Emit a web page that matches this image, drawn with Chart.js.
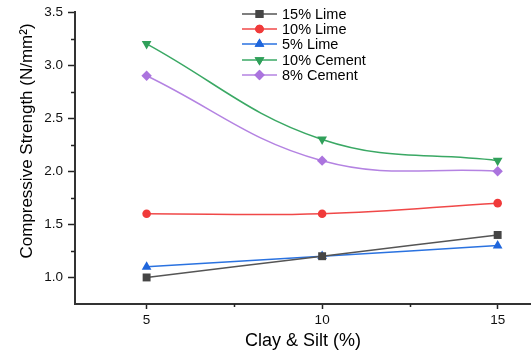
<!DOCTYPE html>
<html><head><meta charset="utf-8">
<script src="https://cdn.jsdelivr.net/npm/chart.js@4/dist/chart.umd.min.js"></script>
<style>html,body{margin:0;padding:0;background:#fff}canvas{display:block}</style>
</head><body>
<canvas id="c" width="531" height="356"></canvas>
<script>
const clayPercent = [5, 10, 15];
const lime15 = [1.0, 1.2, 1.4];
const lime10 = [1.6, 1.6, 1.7];
const lime5 = [1.1, 1.2, 1.3];
const cement10 = [3.2, 2.3, 2.1];
const cement8 = [2.9, 2.1, 2.0];
const seriesNames = ['15% Lime', '10% Lime', '5% Lime', '10% Cement', '8% Cement'];
const yTickValues = [1.0, 1.5, 2.0, 2.5, 3.0, 3.5];
const yMinorValues = [1.25, 1.75, 2.25, 2.75, 3.25];
const xTickValues = [5, 10, 15];
const xMinorValues = [7.5, 12.5];
const xTitle = 'Clay & Silt (%)';
const yTitle = 'Compressive Strength (N/mm²)';

const FONT = "'Liberation Sans', Arial, sans-serif";
const styles = [
  {line: '#555555', fill: '#454545', ps: 'rect', r: 5.6, rot: 0},
  {line: '#f04848', fill: '#f03a3a', ps: 'circle', r: 4.3, rot: 0},
  {line: '#2a72e0', fill: '#1f66dc', ps: 'triangle', r: 5.6, rot: 0},
  {line: '#3aa864', fill: '#30a05a', ps: 'triangle', r: 5.6, rot: 180},
  {line: '#b483e2', fill: '#ab74de', ps: 'rectRot', r: 5.2, rot: 0}
];
const seriesValues = [lime15, lime10, lime5, cement10, cement8];

const datasets = seriesValues.map((vals, i) => ({
  label: seriesNames[i],
  data: clayPercent.map((x, j) => ({x: x, y: vals[j]})),
  borderColor: styles[i].line,
  backgroundColor: styles[i].fill,
  pointBackgroundColor: styles[i].fill,
  pointBorderColor: styles[i].fill,
  pointBorderWidth: 0,
  pointStyle: styles[i].ps,
  pointRadius: styles[i].r,
  pointRotation: styles[i].rot,
  borderWidth: 1.5,
  tension: 0.4,
  fill: false
}));

function drawMarker(ctx, st, x, y) {
  if (Chart.helpers && Chart.helpers.drawPoint) {
    Chart.helpers.drawPoint(ctx, {pointStyle: st.ps, radius: st.r, rotation: st.rot, borderWidth: 0}, x, y);
    ctx.fill();
  }
}

const extras = {
  id: 'extras',
  afterDraw(chart) {
    const ctx = chart.ctx;
    const xs = chart.scales.x, ys = chart.scales.y;
    ctx.save();
    ctx.strokeStyle = '#222';
    ctx.lineWidth = 1.5;
    yMinorValues.forEach(v => {
      const p = Math.round(ys.getPixelForValue(v)) + 0.5;
      ctx.beginPath(); ctx.moveTo(xs.left - 4, p); ctx.lineTo(xs.left, p); ctx.stroke();
    });
    xMinorValues.forEach(v => {
      const p = Math.round(xs.getPixelForValue(v)) + 0.5;
      ctx.beginPath(); ctx.moveTo(p, ys.bottom); ctx.lineTo(p, ys.bottom + 3); ctx.stroke();
    });
    // y title
    ctx.fillStyle = '#000';
    ctx.font = '17px ' + FONT;
    ctx.textAlign = 'center';
    ctx.textBaseline = 'middle';
    ctx.translate(27, 141);
    ctx.rotate(-Math.PI / 2);
    ctx.fillText(yTitle, 0, 0);
    ctx.restore();
    // legend
    ctx.save();
    const rowY = [14, 29, 44, 60, 75];
    seriesNames.forEach((name, i) => {
      const st = styles[i];
      const y = rowY[i];
      ctx.strokeStyle = st.line;
      ctx.lineWidth = 1.5;
      ctx.beginPath(); ctx.moveTo(242, y); ctx.lineTo(277, y); ctx.stroke();
      ctx.fillStyle = st.fill;
      drawMarker(ctx, st, 259.5, y);
      ctx.fillStyle = '#000';
      ctx.font = '14.5px ' + FONT;
      ctx.textAlign = 'left';
      ctx.textBaseline = 'middle';
      ctx.fillText(name, 282, y + 0.5);
    });
    ctx.restore();
  }
};

new Chart(document.getElementById('c'), {
  type: 'line',
  data: {datasets: datasets},
  options: {
    responsive: false,
    animation: false,
    devicePixelRatio: 1,
    layout: {autoPadding: false, padding: {top: 12, right: 0, left: 0, bottom: 0}},
    plugins: {legend: {display: false}, tooltip: {enabled: false}},
    scales: {
      x: {
        type: 'linear',
        min: 2.96, max: 15.95,
        afterBuildTicks: s => { s.ticks = xTickValues.map(v => ({value: v})); },
        afterFit: s => { s.height = 52; s.paddingRight = 0; s.paddingLeft = 0; },
        border: {display: true, color: '#333', width: 2},
        grid: {display: true, drawOnChartArea: false, drawTicks: true, tickLength: 5, tickColor: '#222', tickWidth: 1.5},
        ticks: {color: '#111', font: {family: FONT, size: 13.5}, padding: 3, maxRotation: 0, callback: v => String(v)},
        title: {display: true, text: xTitle, color: '#000', font: {family: FONT, size: 18}, padding: {top: 0, bottom: 4}}
      },
      y: {
        type: 'linear',
        min: 0.75, max: 3.5,
        afterBuildTicks: s => { s.ticks = yTickValues.map(v => ({value: v})); },
        afterFit: s => { s.width = 75; s.paddingTop = 0; s.paddingBottom = 0; },
        border: {display: true, color: '#333', width: 2},
        grid: {display: true, drawOnChartArea: false, drawTicks: true, tickLength: 7, tickColor: '#222', tickWidth: 1.5},
        ticks: {color: '#111', font: {family: FONT, size: 13.5}, padding: 5, callback: v => Number(v).toFixed(1)}
      }
    }
  },
  plugins: [extras]
});
</script>
</body></html>
